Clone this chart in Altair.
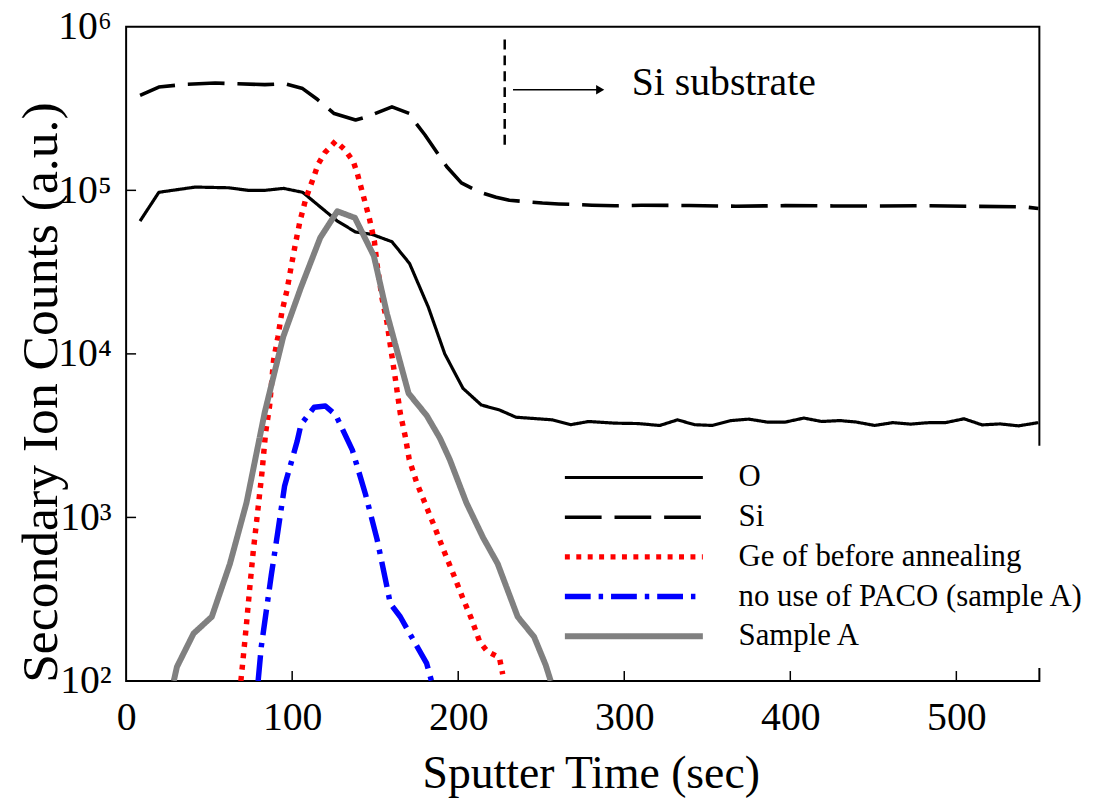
import altair as alt
import pandas as pd

FONT = "Liberation Serif, Times New Roman, serif"

SERIES = ["O", "Si", "Ge of before annealing", "no use of PACO (sample A)", "Sample A"]
COLORS = ["black", "black", "#ff0000", "#0000ff", "#808080"]
DASHES = [[1, 0], [37, 13], [5, 6.5], [26, 8, 4.5, 8], [1, 0]]
WIDTHS = [3.2, 3.6, 5.5, 5.5, 6]

o_time = [8.4, 19.7, 41.6, 61.5, 73.5, 83.5, 94.8, 106.3, 127.2, 138.2, 148.1, 160.1, 170.7,
          182.0, 191.9, 202.9, 213.9, 224.8, 234.8, 256.8, 267.7, 278.6, 294.5, 308.0, 321.4,
          332.1, 342.3, 353.0, 364.2, 375.1, 385.9, 397.1, 408.1, 418.8, 429.9, 439.7, 450.8,
          461.8, 472.6, 483.7, 493.5, 504.6, 515.5, 526.3, 537.5, 549.4]
o_counts = [64900, 97300, 104700, 103700, 100000, 100000, 102800, 97300, 64900, 55600, 53800,
            48500, 35700, 19300, 10000, 6150, 4870, 4540, 4100, 3950, 3690, 3860, 3770, 3750,
            3650, 3950, 3690, 3650, 3910, 3990, 3830, 3830, 4050, 3860, 3910, 3830, 3650, 3800,
            3720, 3800, 3800, 4010, 3680, 3730, 3630, 3800]

si_time = [8.4, 19.7, 35.7, 53.6, 83.5, 95.4, 106.3, 115.3, 125.3, 138.2, 145.2, 160.1, 170.7,
           173.1, 180.0, 193.0, 201.9, 212.9, 222.8, 230.8, 250.7, 260.6, 280.6, 294.5, 310.4,
           339.3, 367.2, 397.0, 425.9, 454.8, 483.7, 513.6, 541.4, 549.4]
si_counts = [381000, 428000, 445000, 453000, 443000, 449000, 419000, 359000, 295000, 269000,
             282000, 324000, 295000, 269000, 218000, 140000, 111000, 97600, 90700, 86900, 83700,
             82600, 81100, 80500, 81000, 80800, 80000, 80600, 80300, 80300, 80500, 79800, 79200,
             77400]

ge_time = [69.1, 70.5, 72.5, 74.5, 76.5, 79.5, 81.8, 84.0, 86.4, 88.8, 91.4, 93.8, 96.8, 99.3,
           101.9, 104.7, 108.3, 113.3, 115.6, 119.7, 126.2, 131.8, 136.8, 139.2, 142.8, 146.5,
           149.5, 151.1, 154.2, 157.1, 159.1, 162.1, 165.1, 168.1, 170.5, 175.0, 180.3, 185.9,
           191.3, 197.0, 202.5, 207.9, 212.9, 217.4, 224.8, 226.8]
ge_counts = [100, 138, 224, 375, 612, 1150, 1875, 3300, 4800, 9140, 12700, 18000, 24300, 33700,
             46800, 64800, 89500, 123000, 144500, 170000, 200000, 176700, 150000, 127000, 93000,
             67300, 49000, 35400, 21700, 15600, 11300, 7080, 4330, 3130, 2260, 1630, 1200, 869,
             627, 452, 326, 241, 174, 152, 139, 110]

paco_time = [79.5, 81.4, 87.4, 91.4, 95.4, 103.0, 105.3, 113.3, 120.0, 126.2, 133.2, 136.2,
             144.2, 151.1, 156.7, 159.1, 165.1, 169.1, 181.0, 183.9]
paco_counts = [100, 162, 442, 822, 1550, 2920, 3700, 4720, 4800, 4240, 3000, 2590, 1380, 737,
               393, 297, 247, 209, 128, 100]

a_time = [28.7, 30.6, 40.6, 51.6, 62.5, 72.5, 83.5, 94.6, 105.3, 116.9, 127.2, 137.8, 149.2,
          157.1, 170.1, 181.0, 189.0, 194.9, 204.9, 214.9, 223.8, 235.8, 245.7, 252.7, 255.7]
a_counts = [100, 122, 195, 247, 520, 1230, 4400, 12700, 25500, 51300, 74500, 67900, 39700,
            17600, 5740, 4200, 3050, 2260, 1230, 755, 520, 247, 186, 125, 100]

x_ticks = [100, 200, 300, 400, 500]
y_ticks = [1000, 10000, 100000]
x_labels = [0, 100, 200, 300, 400, 500]
y_labels = [100, 1000, 10000, 100000, 1000000]

# annotation: substrate marker, arrow, label
marker_t = [228]
marker_lo = [190000]
marker_hi = [900000]
arrow_t0 = [233]
arrow_t1 = [285.5]
arrow_y = [412000]
note_t = [304.5]
note_y = [381000]
note_text = ["Si substrate"]

rows = []
for name, ts, vs in zip(SERIES, [o_time, si_time, ge_time, paco_time, a_time],
                        [o_counts, si_counts, ge_counts, paco_counts, a_counts]):
    for t, v in zip(ts, vs):
        rows.append({"series": name, "t": t, "counts": v})
df = pd.DataFrame(rows)

xscale = alt.Scale(domain=[0, 550], nice=False, zero=False)
yscale = alt.Scale(type="log", domain=[100, 1000000], nice=False)

legend = alt.Legend(
    orient="none", legendX=427, legendY=422, title=None, fillColor="white", padding=12,
    symbolType="stroke", symbolSize=19321, clipHeight=40, rowPadding=0,
    labelFont=FONT, labelFontSize=31, labelColor="black", labelOffset=33, labelLimit=600,
)

x_axis = alt.Axis(
    values=x_labels, title="Sputter Time (sec)", labelFont=FONT, labelFontSize=40,
    labelColor="black", labelPadding=17, labelFlush=False, ticks=False, tickSize=0,
    domain=False, grid=False, titleFont=FONT, titleFontSize=46, titleFontWeight="normal",
    titleColor="black", titleX=468, titleY=107, titleBaseline="alphabetic", titleAlign="center",
)
y_axis = alt.Axis(
    values=y_labels, title="Secondary Ion Counts (a.u.)", labelFont=FONT, labelFontSize=40,
    labelColor="black", labelPadding=15, ticks=False, tickSize=0, domain=False, grid=False,
    labelExpr="datum.value == 100 ? '10²' : datum.value == 1000 ? '10³' : datum.value == 10000 ? '10⁴' : datum.value == 100000 ? '10⁵' : '10⁶'",
    titleFont=FONT, titleFontSize=52, titleFontWeight="normal", titleColor="black",
    titleAngle=270, titleX=-70, titleY=368, titleBaseline="alphabetic", titleAlign="center",
)

lines = alt.Chart(df).mark_line(strokeCap="butt", strokeJoin="round", clip=True).encode(
    x=alt.X("t:Q", scale=xscale, axis=x_axis),
    y=alt.Y("counts:Q", scale=yscale, axis=y_axis),
    color=alt.Color("series:N", scale=alt.Scale(domain=SERIES, range=COLORS), legend=legend),
    strokeDash=alt.StrokeDash("series:N", scale=alt.Scale(domain=SERIES, range=DASHES), legend=legend),
    strokeWidth=alt.StrokeWidth("series:N", scale=alt.Scale(type="ordinal", domain=SERIES, range=WIDTHS), legend=legend),
    detail="series:N",
)

xt = alt.Chart(pd.DataFrame({"t": x_ticks})).mark_rule(color="black", strokeWidth=1.5).encode(
    x=alt.X("t:Q", scale=xscale), y=alt.value(659), y2=alt.value(649)
)
yt = alt.Chart(pd.DataFrame({"counts": y_ticks})).mark_rule(color="black", strokeWidth=1.5).encode(
    y=alt.Y("counts:Q", scale=yscale), x=alt.value(0), x2=alt.value(10)
)

ann = pd.DataFrame({"t": marker_t, "lo": marker_lo, "hi": marker_hi})
vline = alt.Chart(ann).mark_rule(color="black", strokeWidth=2.5, strokeDash=[10, 6]).encode(
    x=alt.X("t:Q", scale=xscale), y=alt.Y("lo:Q", scale=yscale), y2="hi:Q"
)
arr = pd.DataFrame({"t0": arrow_t0, "t1": arrow_t1, "y": arrow_y})
arrow = alt.Chart(arr).mark_rule(color="black", strokeWidth=1.5).encode(
    x=alt.X("t0:Q", scale=xscale), x2="t1:Q", y=alt.Y("y:Q", scale=yscale)
)
head = alt.Chart(arr).mark_point(shape="triangle-right", filled=True, color="black", size=90, opacity=1).encode(
    x=alt.X("t1:Q", scale=xscale), y=alt.Y("y:Q", scale=yscale)
)
note = alt.Chart(pd.DataFrame({"t": note_t, "y": note_y, "txt": note_text})).mark_text(
    align="left", baseline="alphabetic", font=FONT, fontSize=40, color="black"
).encode(x=alt.X("t:Q", scale=xscale), y=alt.Y("y:Q", scale=yscale), text="txt:N")

chart = alt.layer(lines, xt, yt, vline, arrow, head, note).properties(
    width=920, height=659,
    autosize=alt.AutoSizeParams(type="none"),
    padding={"left": 119, "top": 16, "right": 50, "bottom": 120},
    background="white",
).configure_view(stroke="black", strokeWidth=2)

chart.save("out.html", embed_options={"renderer": "svg", "actions": False})
